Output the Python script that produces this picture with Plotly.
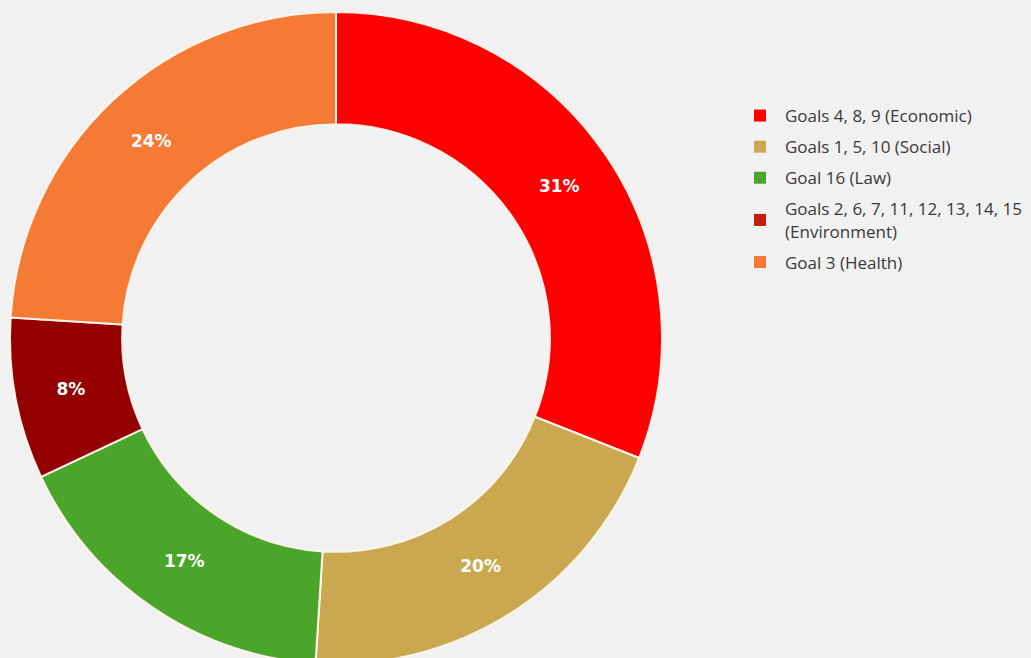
import plotly.graph_objects as go

# Share of goals by thematic group
labels = [
    "Goals 4, 8, 9 (Economic)",
    "Goals 1, 5, 10 (Social)",
    "Goal 16 (Law)",
    "Goals 2, 6, 7, 11, 12, 13, 14, 15<br>(Environment)",
    "Goal 3 (Health)",
]
values = [31, 20, 17, 8, 24]
slice_colors = ["#ff0000", "#c9a84f", "#4ba52a", "#940000", "#f47a35"]
legend_colors = ["#ff0000", "#c9a84f", "#4ba52a", "#c11f0c", "#f47a35"]

W, H = 1031, 672
cx, cy, r = 336, 338, 326  # ring centre and outer radius, px

fig = go.Figure()

fig.add_trace(go.Pie(
    labels=labels,
    values=values,
    hole=0.656,
    sort=False,
    direction="clockwise",
    rotation=0,
    marker=dict(colors=slice_colors, line=dict(color="rgba(255,245,235,0.95)", width=2)),
    texttemplate="%{value}%",
    textposition="inside",
    insidetextorientation="horizontal",
    textfont=dict(family="DejaVu Sans", size=17, color="white", weight=700),
    showlegend=False,
    hoverinfo="label+percent",
    domain=dict(
        x=[(cx - r) / W, (cx + r) / W],
        y=[(H - cy - r) / H, (H - cy + r) / H],
    ),
))

# Legend entries
for name, col in zip(labels, legend_colors):
    fig.add_trace(go.Scatter(
        x=[None], y=[None], mode="markers", name=name, legendgroup=name,
        marker=dict(symbol="square", size=12, color=col),
    ))

fig.update_layout(
    width=W, height=H,
    margin=dict(l=0, r=0, t=0, b=0, autoexpand=False),
    paper_bgcolor="#f0f1f0",
    plot_bgcolor="#f0f1f0",
    xaxis=dict(visible=False),
    yaxis=dict(visible=False),
    legend=dict(
        x=735 / W, y=1 - 98 / H, xanchor="left", yanchor="top",
        font=dict(family="Open Sans", size=17, color="#3a3a3a"),
        bgcolor="rgba(0,0,0,0)",
        tracegroupgap=6,
        itemwidth=40,
        traceorder="grouped",
    ),
)

fig.write_html(
    "out.html",
    post_script="document.documentElement.style.overflow='hidden';document.body.style.overflow='hidden';",
)
